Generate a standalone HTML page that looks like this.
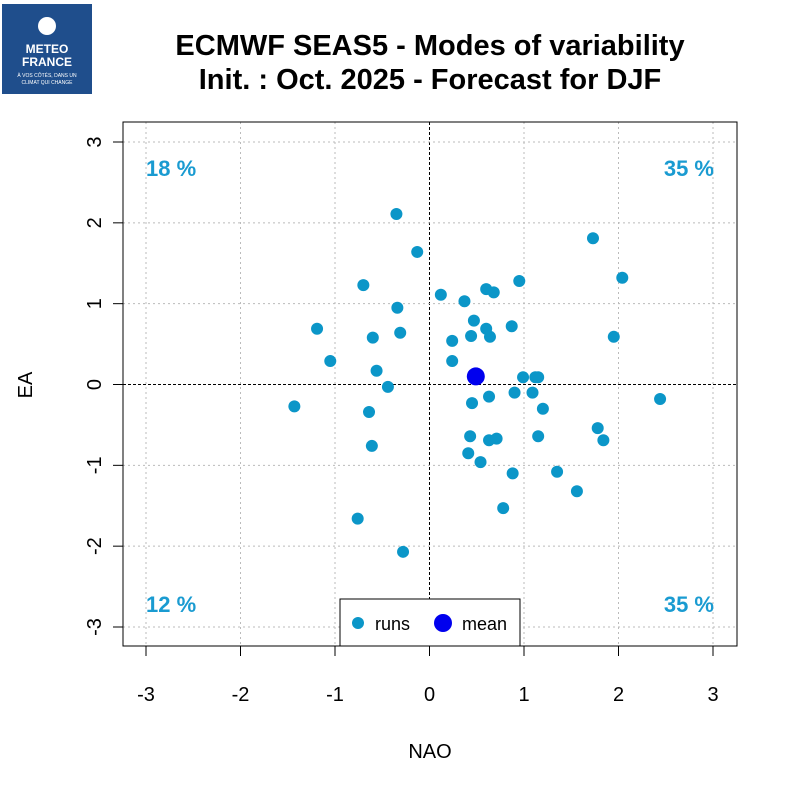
<!DOCTYPE html>
<html><head><meta charset="utf-8"><style>
body{margin:0;background:#fff;}
svg text{font-family:"Liberation Sans",sans-serif;}
</style></head><body>
<svg id="chart" width="800" height="800" viewBox="0 0 800 800" xmlns="http://www.w3.org/2000/svg">
<rect width="800" height="800" fill="#fff"/>
<g>
<rect x="2" y="4" width="90" height="90" fill="#1f4e8c"/>
<circle cx="47" cy="26" r="9" fill="#fff"/>
<text x="47" y="53" font-size="12" font-weight="bold" fill="#fff" text-anchor="middle">METEO</text>
<text x="47" y="66" font-size="12" font-weight="bold" fill="#fff" text-anchor="middle">FRANCE</text>
<text x="47" y="77" font-size="5" fill="#fff" text-anchor="middle">À VOS CÔTÉS, DANS UN</text>
<text x="47" y="84" font-size="5" fill="#fff" text-anchor="middle">CLIMAT QUI CHANGE</text>
</g>
<text x="430" y="55" font-size="29" font-weight="bold" text-anchor="middle">ECMWF SEAS5 - Modes of variability</text>
<text x="430" y="89" font-size="29" font-weight="bold" text-anchor="middle">Init. : Oct. 2025 - Forecast for DJF</text>
<g id="grid"></g>
<g id="axes"></g>
<g id="pts"></g>
<rect x="123" y="122" width="614" height="524" fill="none" stroke="#000"/>
<text x="146" y="176" font-size="22" font-weight="bold" fill="#1a9bd1">18 %</text>
<text x="714" y="176" font-size="22" font-weight="bold" fill="#1a9bd1" text-anchor="end">35 %</text>
<text x="146" y="612" font-size="22" font-weight="bold" fill="#1a9bd1">12 %</text>
<text x="714" y="612" font-size="22" font-weight="bold" fill="#1a9bd1" text-anchor="end">35 %</text>
<g>
<rect x="340" y="599" width="180" height="47" fill="#fff" stroke="#000"/>
<circle cx="358" cy="623" r="6" fill="#0b96c8"/>
<text x="375" y="630" font-size="18">runs</text>
<circle cx="443" cy="623" r="9" fill="#0000ee"/>
<text x="462" y="630" font-size="18">mean</text>
</g>
<text x="430" y="758" font-size="20" text-anchor="middle">NAO</text>
<text x="0" y="0" font-size="20" text-anchor="middle" transform="translate(32,385) rotate(-90)">EA</text>
</svg>
<script>
const xTicks=[-3,-2,-1,0,1,2,3];
const yTicks=[-3,-2,-1,0,1,2,3];
const runsNAO=[-0.35,-0.13,1.73,2.04,-0.70,0.12,0.60,0.68,0.95,0.37,-0.34,0.47,-1.19,-0.60,-0.31,0.60,0.87,0.44,0.64,0.24,1.95,-1.05,0.24,-0.56,-0.44,0.99,1.12,1.15,-1.43,-0.64,0.45,0.63,0.90,1.09,1.20,2.44,0.43,0.63,0.71,1.15,1.78,1.84,-0.61,0.41,0.54,0.88,1.35,1.56,0.78,-0.76,-0.28];
const runsEA=[2.11,1.64,1.81,1.32,1.23,1.11,1.18,1.14,1.28,1.03,0.95,0.79,0.69,0.58,0.64,0.69,0.72,0.60,0.59,0.54,0.59,0.29,0.29,0.17,-0.03,0.09,0.09,0.09,-0.27,-0.34,-0.23,-0.15,-0.10,-0.10,-0.30,-0.18,-0.64,-0.69,-0.67,-0.64,-0.54,-0.69,-0.76,-0.85,-0.96,-1.10,-1.08,-1.32,-1.53,-1.66,-2.07];
const meanNAO=[0.49];
const meanEA=[0.10];
const sx=v=>429.5+v*94.5;
const sy=v=>384.5-v*80.83;
const NS="http://www.w3.org/2000/svg";
function mk(parent,tag,attrs){const e=document.createElementNS(NS,tag);for(const k in attrs)e.setAttribute(k,attrs[k]);parent.appendChild(e);return e;}
const grid=document.getElementById('grid'),axes=document.getElementById('axes'),pts=document.getElementById('pts');
xTicks.forEach(t=>{
 const g=mk(grid,'line',{x1:sx(t),x2:sx(t),y1:122,y2:646,stroke:t===0?'#000':'#bbb','stroke-dasharray':t===0?'3,2':'2,3'});
 
 
 const tk=mk(axes,'line',{x1:sx(t),x2:sx(t),y1:646,y2:656,stroke:'#000'});
 
 
 const tx=mk(axes,'text',{x:sx(t),y:701,'font-size':20,'text-anchor':'middle'});tx.textContent=t;
 
 
});
mk(axes,'line',{x1:sx(-3),x2:sx(3),y1:646,y2:646,stroke:'#000'});
yTicks.forEach(t=>{
 const g=mk(grid,'line',{x1:123,x2:737,y1:sy(t),y2:sy(t),stroke:t===0?'#000':'#bbb','stroke-dasharray':t===0?'3,2':'2,3'});
 
 
 const tk=mk(axes,'line',{x1:113,x2:123,y1:sy(t),y2:sy(t),stroke:'#000'});
 
 
 const tx=mk(axes,'text',{x:0,y:0,'font-size':20,'text-anchor':'middle',transform:`translate(101,${sy(t)}) rotate(-90)`});tx.textContent=t;
 
 
});
mk(axes,'line',{x1:123,x2:123,y1:sy(-3),y2:sy(3),stroke:'#000'});
runsNAO.forEach((v,i)=>{
 const c=mk(pts,'circle',{cx:sx(v),cy:sy(runsEA[i]),r:6,fill:'#0b96c8'});
 
 
});
meanNAO.forEach((v,i)=>{
 const c=mk(pts,'circle',{cx:sx(v),cy:sy(meanEA[i]),r:9,fill:'#0000ee'});
 
 
});
</script>
</body></html>
